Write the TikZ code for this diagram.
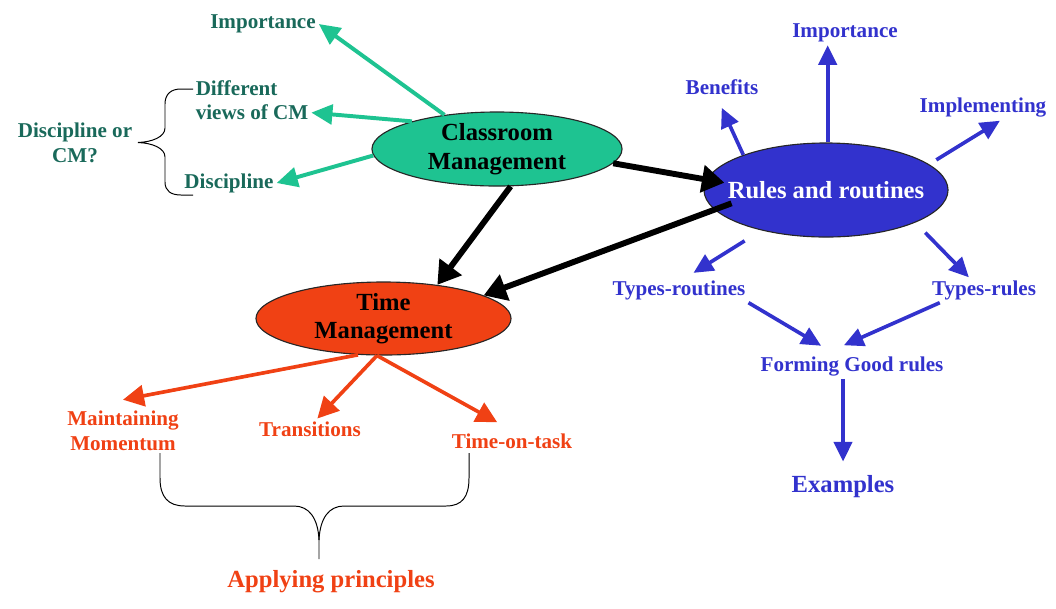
\documentclass[tikz,border=0pt]{standalone}
\usepackage{fontspec}
\setmainfont{Liberation Serif}
\usetikzlibrary{arrows.meta,shapes.geometric}

\definecolor{cmfill}{RGB}{30,195,145}
\definecolor{cmtext}{RGB}{25,105,90}
\definecolor{rrblue}{RGB}{50,50,205}
\definecolor{tmred}{RGB}{240,65,20}

\begin{document}
\begin{tikzpicture}[x=0.025cm, y=-0.025cm,
	small/.style={font=\fontsize{15}{17.5}\selectfont\bfseries, inner sep=2pt},
	big/.style={font=\fontsize{17.5}{21}\selectfont\bfseries, inner sep=2pt},
	blob/.style={ellipse, draw=black!85, line width=0.8pt, inner sep=0pt},
	tealarrow/.style={-{Triangle[length=15pt,width=14pt]}, cmfill, line width=2.8pt},
	blackarrow/.style={-{Triangle[length=16pt,width=19pt]}, black, line width=4.2pt},
	bluearrow/.style={-{Triangle[length=14pt,width=13pt]}, rrblue, line width=2.6pt},
	redarrow/.style={-{Triangle[length=15pt,width=15pt]}, tmred, line width=2.6pt}]
	\useasboundingbox (0,0) rectangle (1056,608);
	% the three topics
	\node[big, blob, fill=cmfill, minimum width=6.25cm, minimum height=1.85cm, align=center] (cm) at (497,149) {Classroom\\Management};
	\node[blob, fill=rrblue, minimum width=6.1cm, minimum height=2.35cm] (rr) at (826,190) {};
	\node[big, white] (rrtxt) at (rr.center) {Rules and routines};
	\node[big, blob, fill=tmred, minimum width=6.375cm, minimum height=1.825cm, align=center] (tm) at (383.5,318.5) {Time\\[-1pt]Management};
	% classroom management
	\node[small, cmtext] (timp) at (263,24) {Importance};
	\node[small, cmtext, align=left] (dv) at (252,100) {Different\\views of CM};
	\node[small, cmtext] (disc) at (229,183) {Discipline};
	\node[small, cmtext, align=center] (dcm) at (75,143) {Discipline or\\CM?};
	\draw[line width=0.7pt] (193,89) -- (181,89) .. controls (171,89) and (165,94) .. (165,104) -- (165,128) .. controls (165,137) and (152,142) .. (138,142.5) .. controls (152,143) and (165,148) .. (165,157) -- (165,182) .. controls (165,191) and (171,195) .. (181,195) -- (193,195);
	% rules and routines
	\node[small, rrblue] (bimp) at (845,33) {Importance};
	\node[small, rrblue] (ben) at (722,87) {Benefits};
	\node[small, rrblue] (bimpl) at (983,108) {Implementing};
	\node[small, rrblue] (btr) at (679,290) {Types-routines};
	\node[small, rrblue] (btu) at (984,290) {Types-rules};
	\node[small, rrblue] (fgr) at (852,366) {Forming Good rules};
	\node[big, rrblue] (ex) at (843,487) {Examples};
	% time management
	\node[small, tmred, align=center] (mm) at (123,431) {Maintaining\\Momentum};
	\node[small, tmred] (tr) at (310,429) {Transitions};
	\node[small, tmred] (tot) at (512,441) {Time-on-task};
	\node[big, tmred] (ap) at (331,582) {Applying principles};
	\draw[line width=0.7pt] (160,453) -- (160,478) .. controls (160,497) and (168,506) .. (185,506) -- (294,506) .. controls (309,506) and (318,518) .. (319,540) -- (319,559);
	\draw[line width=0.7pt] (319,540) .. controls (320,518) and (329,506) .. (344,506) -- (446,506) .. controls (462,506) and (469,497) .. (469,478) -- (469,453);
	% arrows
	\draw[tealarrow] (cm.147) -- (timp.east);
	\draw[tealarrow] (cm.162) -- (dv.-12);
	\draw[tealarrow] (cm.183) -- (disc.east);
	\draw[blackarrow, shorten >=-13pt] (cm.-7) -- (rr.175);
	\draw[blackarrow] (cm.-70) -- (tm.32);
	\draw[blackarrow, shorten <=-13pt] (rr.190) -- (tm.13);
	\draw[bluearrow] (rr.88) -- (rr.88 |- bimp.south);
	\draw[bluearrow, shorten >=8pt] (rr.157) -- (ben.-115);
	\draw[bluearrow, shorten <=6pt] (rr.14) -- (bimpl.-37);
	\draw[bluearrow, shorten <=14pt, shorten >=6pt] (rr.212) -- (btr.60);
	\draw[bluearrow, shorten <=10pt] (rr.-20) -- (btu.140);
	\draw[bluearrow, shorten >=10.5pt] (btr.south east) -- (fgr.145);
	\draw[bluearrow, shorten >=14pt] (btu.196) -- (fgr.154);
	\draw[bluearrow, shorten >=8pt] (ex.north |- fgr.south) -- (ex.north);
	\draw[redarrow] (tm.235) -- ([yshift=6pt]mm.north);
	\draw[redarrow] (tm.260) -- (tr.55);
	\draw[redarrow, shorten >=12pt] (tm.260) -- (tot.north);
\end{tikzpicture}
\end{document}
